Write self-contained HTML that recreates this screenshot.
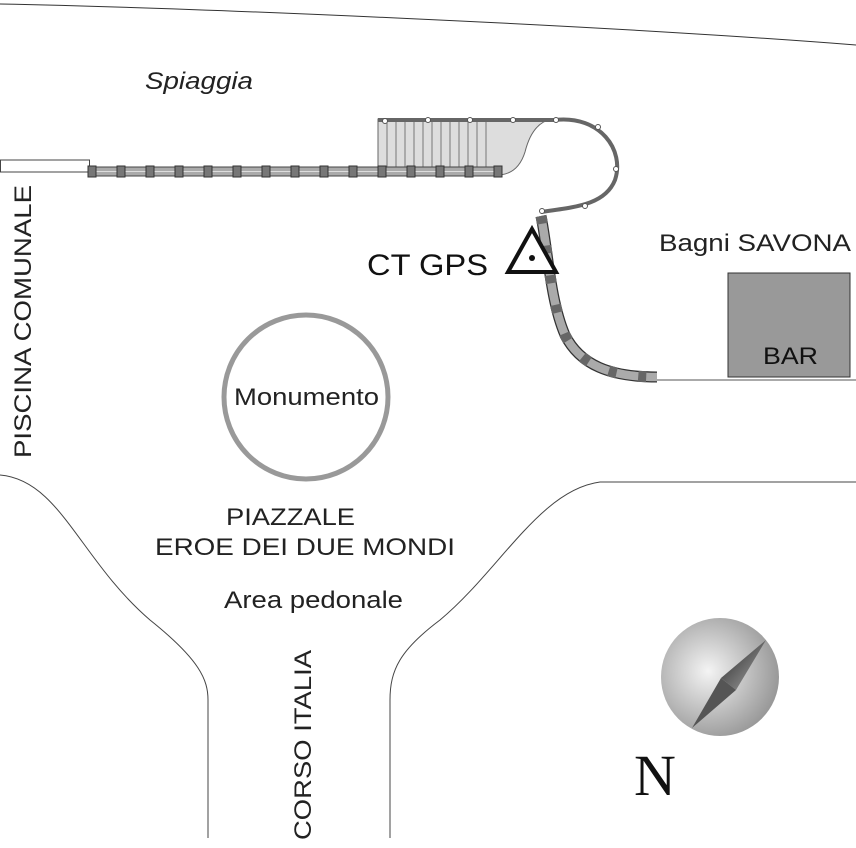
<!DOCTYPE html>
<html><head><style>body{margin:0;background:#fff}svg{display:block}</style></head><body>
<svg width="856" height="848" viewBox="0 0 856 848" xmlns="http://www.w3.org/2000/svg" font-family="Liberation Sans, sans-serif">
<defs>
<radialGradient id="g" cx="0.4" cy="0.45" r="0.6"><stop offset="0" stop-color="#f4f4f4"/><stop offset="1" stop-color="#999"/></radialGradient>
<linearGradient id="n1" x1="0" y1="0" x2="1" y2="1"><stop offset="0" stop-color="#222"/><stop offset="1" stop-color="#aaa"/></linearGradient>
</defs>
<path d="M0,4 C200,8 600,25 856,45" fill="none" stroke="#333" stroke-width="1"/>
<text x="145" y="89" font-size="24" font-style="italic" fill="#222" textLength="108" lengthAdjust="spacingAndGlyphs">Spiaggia</text>
<rect x="0.5" y="160" width="89" height="12" fill="#fff" stroke="#444"/>
<path d="M378,119 L552,119 C535,122 528,140 525,152 C520,168 510,174 500,175 L378,175 Z" fill="#ddd" stroke="#666"/>
<g stroke="#777" stroke-width="1">
<line x1="387" y1="119" x2="387" y2="168"/><line x1="396" y1="119" x2="396" y2="168"/><line x1="405" y1="119" x2="405" y2="168"/><line x1="414" y1="119" x2="414" y2="168"/><line x1="423" y1="119" x2="423" y2="168"/><line x1="432" y1="119" x2="432" y2="168"/><line x1="441" y1="119" x2="441" y2="168"/><line x1="450" y1="119" x2="450" y2="168"/><line x1="459" y1="119" x2="459" y2="168"/><line x1="468" y1="119" x2="468" y2="168"/><line x1="477" y1="119" x2="477" y2="168"/><line x1="486" y1="119" x2="486" y2="168"/>
</g>
<path d="M378,120 L555,120 C600,115 625,150 615,180 C605,205 575,207 541,212" fill="none" stroke="#666" stroke-width="4"/>
<g fill="#fff" stroke="#555"><circle cx="385" cy="121" r="2.5"/><circle cx="428" cy="120" r="2.5"/><circle cx="470" cy="120" r="2.5"/><circle cx="513" cy="120" r="2.5"/><circle cx="556" cy="120" r="2.5"/><circle cx="598" cy="127" r="2.5"/><circle cx="616" cy="169" r="2.5"/><circle cx="585" cy="206" r="2.5"/><circle cx="542" cy="211" r="2.5"/></g>
<rect x="88" y="167" width="414" height="9" fill="#aaa" stroke="#444"/>
<line x1="88" y1="171.5" x2="502" y2="171.5" stroke="#ddd"/>
<g fill="#777" stroke="#333"><rect x="88" y="166" width="8" height="11"/><rect x="117" y="166" width="8" height="11"/><rect x="146" y="166" width="8" height="11"/><rect x="175" y="166" width="8" height="11"/><rect x="204" y="166" width="8" height="11"/><rect x="233" y="166" width="8" height="11"/><rect x="262" y="166" width="8" height="11"/><rect x="291" y="166" width="8" height="11"/><rect x="320" y="166" width="8" height="11"/><rect x="349" y="166" width="8" height="11"/><rect x="378" y="166" width="8" height="11"/><rect x="407" y="166" width="8" height="11"/><rect x="436" y="166" width="8" height="11"/><rect x="465" y="166" width="8" height="11"/><rect x="494" y="166" width="8" height="11"/></g>
<path d="M541,216 C548,250 550,300 565,335 C580,365 610,377 657,377" fill="none" stroke="#333" stroke-width="11"/>
<path d="M541,216 C548,250 550,300 565,335 C580,365 610,377 657,377" fill="none" stroke="#aaa" stroke-width="8.5"/>
<path d="M541,216 C548,250 550,300 565,335 C580,365 610,377 657,377" fill="none" stroke="#666" stroke-width="11" stroke-dasharray="8 22"/>
<line x1="657" y1="380" x2="856" y2="380" stroke="#555"/>
<path d="M508,272 L532,229 L556,272 Z" fill="#fff" stroke="#111" stroke-width="4"/>
<circle cx="532" cy="258" r="3" fill="#111"/>
<text x="367" y="275" font-size="30" fill="#111" textLength="121" lengthAdjust="spacingAndGlyphs">CT GPS</text>
<text x="659" y="251" font-size="24" fill="#222" textLength="192" lengthAdjust="spacingAndGlyphs">Bagni SAVONA</text>
<rect x="728" y="273" width="122" height="104" fill="#999" stroke="#333"/>
<text x="763" y="364" font-size="24" fill="#111" textLength="55" lengthAdjust="spacingAndGlyphs">BAR</text>
<circle cx="306" cy="397" r="82" fill="none" stroke="#999" stroke-width="5"/>
<text x="234" y="405" font-size="24" fill="#222" textLength="145" lengthAdjust="spacingAndGlyphs">Monumento</text>
<text transform="translate(31,458) rotate(-90)" font-size="24" fill="#222" textLength="273" lengthAdjust="spacingAndGlyphs">PISCINA COMUNALE</text>
<path d="M0,475 C60,480 80,560 150,620 C200,660 208,680 208,700 L208,838" fill="none" stroke="#444"/>
<path d="M856,482 L600,482 C540,490 500,570 440,620 C400,650 390,670 390,700 L390,838" fill="none" stroke="#444"/>
<text x="226" y="525" font-size="24" fill="#222" textLength="129" lengthAdjust="spacingAndGlyphs">PIAZZALE</text>
<text x="155" y="555" font-size="24" fill="#222" textLength="300" lengthAdjust="spacingAndGlyphs">EROE DEI DUE MONDI</text>
<text x="224" y="608" font-size="24" fill="#222" textLength="179" lengthAdjust="spacingAndGlyphs">Area pedonale</text>
<text transform="translate(311,840) rotate(-90)" font-size="24" fill="#222" textLength="190" lengthAdjust="spacingAndGlyphs">CORSO ITALIA</text>
<circle cx="720" cy="677" r="59" fill="url(#g)"/>
<path d="M766,640 L721,678 L736,690 Z" fill="url(#n1)"/>
<path d="M692,728 L721,678 L736,690 Z" fill="#555"/>
<text x="634" y="795" font-size="58" font-family="Liberation Serif, serif" fill="#111">N</text>
</svg>
</body></html>
